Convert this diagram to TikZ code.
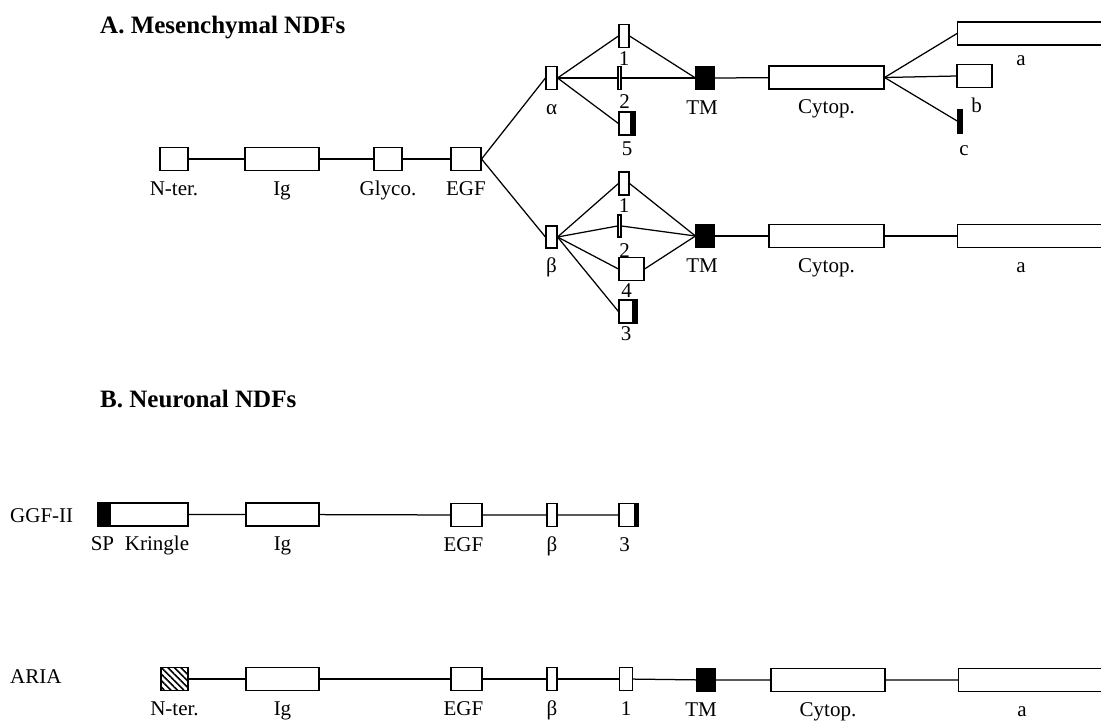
\documentclass[tikz,border=0pt]{standalone}
\usepackage{fontspec}
\setmainfont{Liberation Serif}
\usepackage{tikz}
\usetikzlibrary{positioning,calc,patterns.meta}
\tikzset{
  exon/.style={draw, rectangle, inner sep=0pt, minimum height=23.5pt, line width=1.1pt,
               fill=white},
  tmexon/.style={exon, fill=black},
  tailblack/.style={path picture={\fill[black] ([xshift=-#1]path picture bounding box.north east)
                    rectangle (path picture bounding box.south east);}},
  tailblack/.default=5pt,
  headblack/.style={path picture={\fill[black] (path picture bounding box.north west)
                    rectangle ([xshift=#1]path picture bounding box.south west);}},
  hatched/.style={exon, pattern={Lines[angle=-45, distance=4.6pt, line width=1.6pt]}},
  link/.style={line width=1.25pt},
  lbl/.style={inner sep=0pt, text height=14pt, text depth=0pt,
              font=\fontsize{21}{24}\selectfont},
  rowlbl/.style={lbl, anchor=west},
  paneltitle/.style={inner sep=0pt, anchor=base west, font=\fontsize{25}{30}\selectfont\bfseries},
}

\begin{document}
\begin{tikzpicture}[x=1pt, y=-1pt]
\useasboundingbox (0,0) rectangle (1101,721);

% ============================ A. mesenchymal ============================
\node[paneltitle] (ttlA) at (100,33) {A. Mesenchymal NDFs};

% common amino-terminal part
\node[exon, minimum width=28pt] (nterA) at (174,159) {};
\node[exon, minimum width=74pt] (igA)   at (282,159) {};
\node[exon, minimum width=28pt] (glyco) at (388,159) {};
\node[exon, minimum width=30pt] (egfA)  at (466,159) {};
\node[lbl, below=10pt of nterA] {N-ter.};
\node[lbl, below=10pt of igA] {Ig};
\node[lbl, below=10pt of glyco] {Glyco.};
\node[lbl, below=10pt of egfA] {EGF};

\draw[link] (nterA) -- (igA) (igA) -- (glyco) (glyco) -- (egfA);

% alpha variants
\node[exon, minimum width=11pt, minimum height=23pt] (alpha) at (551.5,78) {};
\node[exon, minimum width=10pt] (aone)  at (624,36) {};
\node[exon, minimum width=3pt, minimum height=23pt] (atwo) at (619.5,78) {};
\node[exon, tailblack, minimum width=16pt, minimum height=23pt] (afive) at (627,123.5) {};
\node[tmexon, minimum width=18pt] (tmA) at (705,78) {};
\node[exon, minimum width=115pt, minimum height=23pt] (cytA) at (826.5,77.5) {};
\node[exon, anchor=west, minimum width=170pt, minimum height=23pt] (tailAa) at (957,33.5) {};
\node[exon, minimum width=35pt] (tailAb) at (974.5,76) {};
\node[tmexon, minimum width=5pt, minimum height=24pt, line width=0.6pt] (tailAc) at (960,121) {};

\node[lbl, below=10pt of alpha] {α};
\node[lbl, below=3pt of aone] {1};
\node[lbl, below=4pt of atwo, xshift=5pt] {2};
\node[lbl, below=6pt of afive] {5};
\node[lbl, below=10pt of tmA, xshift=-3pt] {TM};
\node[lbl, below=10pt of cytA] {Cytop.};
\node[lbl, below=6pt of tailAa.south west, xshift=64pt] {a};
\node[lbl, below=10pt of tailAb, xshift=2pt] {b};
\node[lbl, below=8pt of tailAc, xshift=4pt] {c};

\draw[link] (egfA.east) -- (alpha.west);
\draw[link] (alpha.east) -- (aone.west) (aone.east) -- (tmA.west);
\draw[link] (alpha.east) -- (atwo.west) (atwo.east) -- (tmA.west);
\draw[link] (alpha.east) -- (afive.west);
\draw[link] (tmA) -- (cytA);
\draw[link] (cytA.east) -- (tailAa.west);
\draw[link] (cytA.east) -- (tailAb.west);
\draw[link] (cytA.east) -- (tailAc.west);

% beta variants
\node[exon, minimum width=11pt, minimum height=22pt] (beta) at (551.5,237) {};
\node[exon, minimum width=10pt, minimum height=23pt] (bone) at (624,183.5) {};
\node[exon, minimum width=3pt, minimum height=22pt] (btwo) at (619.5,226) {};
\node[exon, minimum width=25pt] (bfour) at (631.5,269) {};
\node[exon, tailblack, minimum width=18pt, minimum height=23pt] (bthree) at (628,311.5) {};
\node[tmexon, minimum width=18pt] (tmB) at (705,236) {};
\node[exon, minimum width=115pt] (cytB) at (826.5,236) {};
\node[exon, anchor=west, minimum width=170pt] (tailBa) at (957,236) {};

\node[lbl, below=10pt of beta] {β};
\node[lbl, below=3pt of bone] {1};
\node[lbl, below=6pt of btwo, xshift=5pt] {2};
\node[lbl, below=2pt of bfour, xshift=-5pt] {4};
\node[lbl, below=3pt of bthree, xshift=-2pt] {3};
\node[lbl, below=10pt of tmB, xshift=-3pt] {TM};
\node[lbl, below=10pt of cytB] {Cytop.};
\node[lbl, below=10pt of tailBa.south west, xshift=64pt] {a};

\draw[link] (egfA.east) -- (beta.west);
\draw[link] (beta.east) -- (bone.west) (bone.east) -- (tmB.west);
\draw[link] (beta.east) -- (btwo.west) (btwo.east) -- (tmB.west);
\draw[link] (beta.east) -- (bfour.west) (bfour.east) -- (tmB.west);
\draw[link] (beta.east) -- (bthree.west);
\draw[link] (tmB) -- (cytB) (cytB) -- (tailBa);

% ============================ B. neuronal ===============================
\node[paneltitle] (ttlB) at (100,407) {B. Neuronal NDFs};

% GGF-II
\node[rowlbl] (ggf) at (10,515) {GGF-II};
\node[exon, headblack=13pt, minimum width=90pt, minimum height=23pt] (kringle) at (143,514.5) {};
\node[exon, minimum width=73pt, minimum height=23pt] (igG) at (282.5,514.5) {};
\node[exon, minimum width=31pt] (egfG) at (466.5,515) {};
\node[exon, minimum width=10pt] (betaG) at (552,515) {};
\node[exon, tailblack=4.5pt, minimum width=19pt] (threeG) at (628.5,515) {};

\node[lbl, below=10pt of kringle.south west, xshift=5pt] {SP};
\node[lbl, below=10pt of kringle, xshift=14pt] {Kringle};
\node[lbl, below=10pt of igG] {Ig};
\node[lbl, below=10pt of egfG, xshift=-3pt] {EGF};
\node[lbl, below=10pt of betaG] {β};
\node[lbl, below=10pt of threeG, xshift=-4pt] {3};

\draw[link] (kringle) -- (igG) (igG) -- (egfG) (egfG) -- (betaG) (betaG) -- (threeG);

% ARIA
\node[rowlbl] (aria) at (10,676) {ARIA};
\node[hatched, minimum width=27pt] (nterR) at (174.5,679) {};
\node[exon, minimum width=73pt] (igR) at (282.5,679) {};
\node[exon, minimum width=31pt] (egfR) at (466.5,679) {};
\node[exon, minimum width=10pt] (betaR) at (552,679) {};
\node[exon, minimum width=13pt] (oneR) at (626,679) {};
\node[tmexon, minimum width=18pt] (tmR) at (706,680) {};
\node[exon, minimum width=114pt] (cytR) at (828,680) {};
\node[exon, anchor=west, minimum width=170pt] (tailRa) at (958,680) {};

\node[lbl, below=10pt of nterR] {N-ter.};
\node[lbl, below=10pt of igR] {Ig};
\node[lbl, below=10pt of egfR, xshift=-3pt] {EGF};
\node[lbl, below=10pt of betaR] {β};
\node[lbl, below=10pt of oneR] {1};
\node[lbl, below=10pt of tmR, xshift=-5pt] {TM};
\node[lbl, below=10pt of cytR] {Cytop.};
\node[lbl, below=10pt of tailRa.south west, xshift=64pt] {a};

\draw[link] (nterR) -- (igR) (igR) -- (egfR) (egfR) -- (betaR) (betaR) -- (oneR);
\draw[link] (oneR) -- (tmR) (tmR) -- (cytR) (cytR) -- (tailRa);

\end{tikzpicture}
\end{document}
